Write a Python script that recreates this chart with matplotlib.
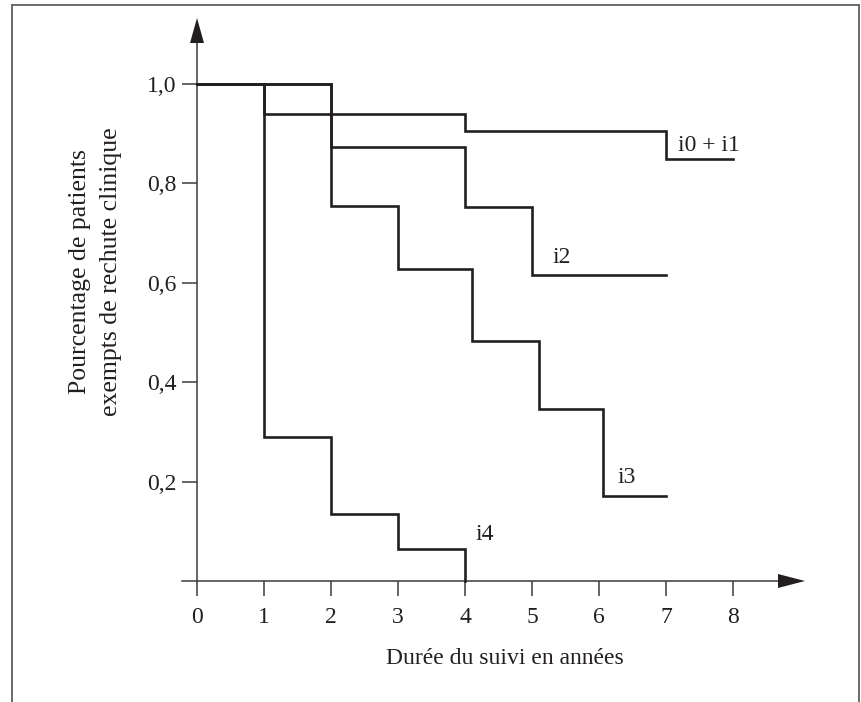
import matplotlib
matplotlib.use("Agg")
import matplotlib.pyplot as plt
from matplotlib.lines import Line2D
from matplotlib.ticker import FuncFormatter

# ---- data ----
t_i01 = [0, 1, 4, 7, 8]
s_i01 = [1.0, 0.94, 0.906, 0.85, 0.85]
t_i2 = [0, 2, 4, 5, 7]
s_i2 = [1.0, 0.874, 0.752, 0.616, 0.616]
t_i3 = [0, 2, 3, 4.1, 5.1, 6.06, 7]
s_i3 = [1.0, 0.755, 0.628, 0.483, 0.346, 0.171, 0.171]
t_i4 = [0, 1, 2, 3, 4, 4]
s_i4 = [1.0, 0.29, 0.135, 0.064, 0.064, 0.0]
series_labels = ["i0 + i1", "i2", "i3", "i4"]
label_pos = [(7.18, 0.877), (5.30, 0.65), (6.27, 0.209), (4.15, 0.093)]
x_ticks = [0, 1, 2, 3, 4, 5, 6, 7, 8]
y_ticks = [0.2, 0.4, 0.6, 0.8, 1.0]
x_label = "Durée du suivi en années"
y_label_lines = ["Pourcentage de patients", "exempts de rechute clinique"]

W, H = 861, 702
plt.rcParams['font.family'] = ['Liberation Serif', 'DejaVu Serif']
fig = plt.figure(figsize=(W / 100, H / 100), dpi=100)
ax = fig.add_axes([0, 0, 1, 1])

# pixel mapping: x=0 at px 197, 67 px/unit; y=0 at px 581 (from top), 497 px/unit
x0, xs = 197, 67.0
y0, ys = 581, 497.0
ax.set_xlim(-x0 / xs, (W - x0) / xs)
ax.set_ylim((y0 - H) / ys, y0 / ys)

ink = '#231f20'
axc = '#3a3a3a'
lw = 1.9
for t, s in [(t_i01, s_i01), (t_i2, s_i2), (t_i3, s_i3), (t_i4, s_i4)]:
    ax.step(t, s, where='post', color=ink, lw=lw, solid_joinstyle='miter', zorder=3)

fs = 17
for lab, (lx, ly) in zip(series_labels, label_pos):
    ax.text(lx, ly, lab, fontsize=fs, color=ink, ha='left', va='center')

# axes styling
for sp in ['top', 'right']:
    ax.spines[sp].set_visible(False)
ax.spines['left'].set_position(('data', 0))
ax.spines['bottom'].set_position(('data', 0))
ax.spines['left'].set_bounds(0, 1.09)
ax.spines['bottom'].set_bounds(-15 / xs, 8.7)
for sp in ['left', 'bottom']:
    ax.spines[sp].set_color(axc)
    ax.spines[sp].set_linewidth(1.1)

ax.set_xticks(x_ticks)
ax.set_yticks(y_ticks)
ax.xaxis.set_major_formatter(FuncFormatter(lambda v, p: f"{int(v)}"))
ax.yaxis.set_major_formatter(FuncFormatter(lambda v, p: f"{v:.1f}".replace('.', ',')))
ax.tick_params(axis='x', direction='out', length=10.8, width=1.1, color=axc,
               labelsize=fs, labelcolor=ink, pad=8)
ax.tick_params(axis='y', direction='out', length=10.8, width=1.1, color=axc,
               labelsize=fs, labelcolor=ink, pad=4)
ax.patch.set_visible(False)

# arrowheads
ax.fill([-7 / xs, 7 / xs, 0], [(y0 - 43) / ys, (y0 - 43) / ys, (y0 - 18) / ys],
        color=ink, lw=0, zorder=4)
ax.fill([(778 - x0) / xs, (778 - x0) / xs, (805 - x0) / xs], [7 / ys, -7 / ys, 0],
        color=ink, lw=0, zorder=4)

# axis titles
ax.text((505 - x0) / xs, (y0 - 658) / ys, x_label, fontsize=fs, color=ink,
        ha='center', va='center')
for line, bx in zip(y_label_lines, [86, 117]):
    ax.text((bx - x0) / xs, (y0 - 272) / ys, line, fontsize=18.5, color=ink,
            ha='center', va='baseline', rotation=90, rotation_mode='anchor')

# frame (open at bottom)
fc = '#6a6a6a'
fig.add_artist(Line2D([12 / W, 12 / W], [0, 1 - 5 / H], transform=fig.transFigure, color=fc, lw=1.4))
fig.add_artist(Line2D([859 / W, 859 / W], [0, 1 - 5 / H], transform=fig.transFigure, color=fc, lw=1.4))
fig.add_artist(Line2D([12 / W, 859 / W], [1 - 5 / H, 1 - 5 / H], transform=fig.transFigure, color=fc, lw=1.4))

fig.savefig("out.png", dpi=100, facecolor='white')
